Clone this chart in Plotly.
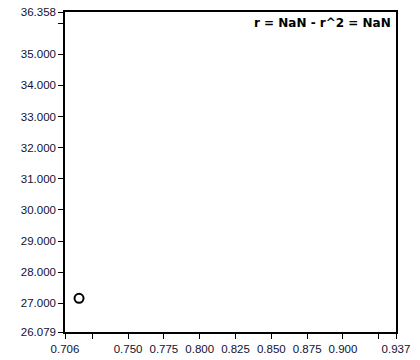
import plotly.graph_objects as go

x_vals = [0.7158]
y_vals = [27.16]

x_tickvals = [0.706, 0.725, 0.75, 0.775, 0.8, 0.825, 0.85, 0.875, 0.9, 0.925, 0.937]
x_ticktext = ["0.706", "", "0.750", "0.775", "0.800", "0.825", "0.850", "0.875", "0.900", "", "0.937"]
y_tickvals = [26.079, 27, 28, 29, 30, 31, 32, 33, 34, 35, 36, 36.358]
y_ticktext = ["26.079", "27.000", "28.000", "29.000", "30.000", "31.000", "32.000",
              "33.000", "34.000", "35.000", "", "36.358"]
x_range = [0.706, 0.937]
y_range = [26.079, 36.358]
title_text = "r = NaN - r^2 = NaN"

fig = go.Figure()
fig.add_trace(go.Scatter(
    x=x_vals, y=y_vals, mode="markers",
    marker=dict(symbol="circle-open", size=9, color="black", line=dict(width=2, color="black")),
    showlegend=False, cliponaxis=False,
))

axis_common = dict(
    showgrid=False, zeroline=False, showline=True, linecolor="black", linewidth=1.5,
    mirror=True, ticks="outside", ticklen=5, tickwidth=1.3, tickcolor="black",
    tickfont=dict(family="Liberation Sans", size=11.5, color="#111133"),
    tickmode="array", automargin=False,
)
fig.update_xaxes(range=x_range, tickvals=x_tickvals, ticktext=x_ticktext, **axis_common)
fig.update_yaxes(range=y_range, tickvals=y_tickvals, ticktext=y_ticktext, **axis_common)

fig.add_annotation(
    text=title_text, xref="paper", yref="paper", x=0.99, y=0.995,
    xanchor="right", yanchor="top", showarrow=False,
    font=dict(family="DejaVu Sans", size=12, color="black", weight="bold"),
)

fig.update_layout(
    width=420, height=360, margin=dict(l=65, r=24, t=12, b=28),
    paper_bgcolor="white", plot_bgcolor="white",
)
fig.write_html("out.html")
